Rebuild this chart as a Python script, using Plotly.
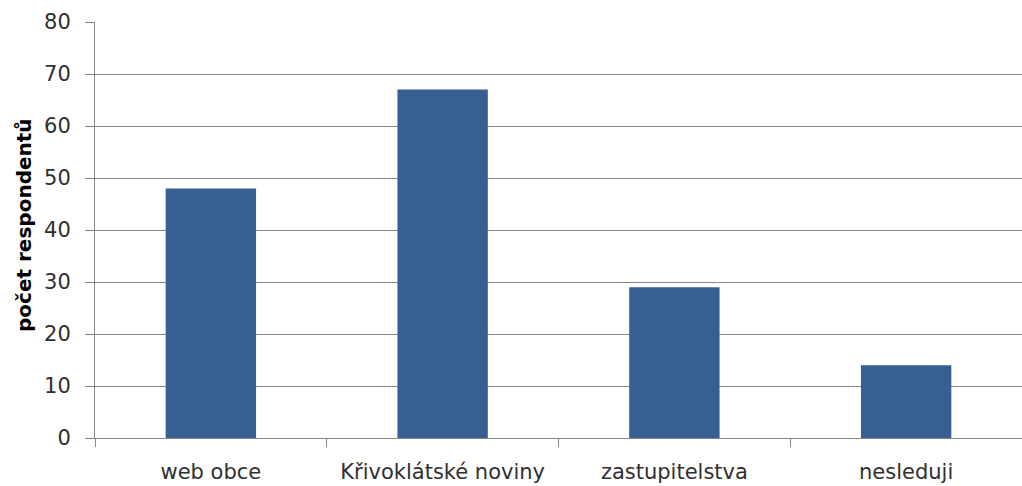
import plotly.graph_objects as go

categories = ["web obce", "Křivoklátské noviny", "zastupitelstva", "nesleduji"]
values = [48, 67, 29, 14]
y_ticks = [0, 10, 20, 30, 40, 50, 60, 70, 80]

fig = go.Figure(go.Bar(x=categories, y=values, marker=dict(color="#375F92", line=dict(width=0)),
                       width=0.39))

L, R, T, B = 95, 0, 22, 48
W, H = 1022, 486
fig.update_layout(
    width=W, height=H,
    margin=dict(l=L, r=R, t=T, b=B, autoexpand=False),
    paper_bgcolor="white", plot_bgcolor="white",
    showlegend=False,
    font=dict(family="DejaVu Sans", color="#404040"),
)
fig.update_xaxes(
    type="category", tickson="boundaries", ticks="outside", ticklen=8, tickcolor="#868686",
    showline=True, linecolor="#868686", linewidth=1, showgrid=False, automargin=False,
    tickfont=dict(size=21, color="#303030", family="DejaVu Sans"),
    ticklabelstandoff=15,
    range=[-0.5, 3.5],
)
fig.update_yaxes(
    range=[0, 80], tickvals=y_ticks, ticks="outside", ticklen=9, tickcolor="#868686",
    showline=True, linecolor="#868686", linewidth=1, automargin=False,
    showgrid=True, gridcolor="#868686", gridwidth=1, zeroline=False,
    tickfont=dict(size=21, color="#303030", family="DejaVu Sans"),
    ticklabelstandoff=10,
)
fig.add_annotation(
    text="<b>počet respondentů</b>", textangle=-90, showarrow=False,
    xref="paper", yref="paper", x=-(L - 24) / (W - L - R), y=(H - B - 225) / (H - B - T),
    xanchor="center", yanchor="middle",
    font=dict(size=20, color="#000000", family="DejaVu Sans"),
)
fig.write_html("out.html", config={"displayModeBar": False},
               post_script="document.body.style.margin='0px';document.body.style.overflow='hidden';")
